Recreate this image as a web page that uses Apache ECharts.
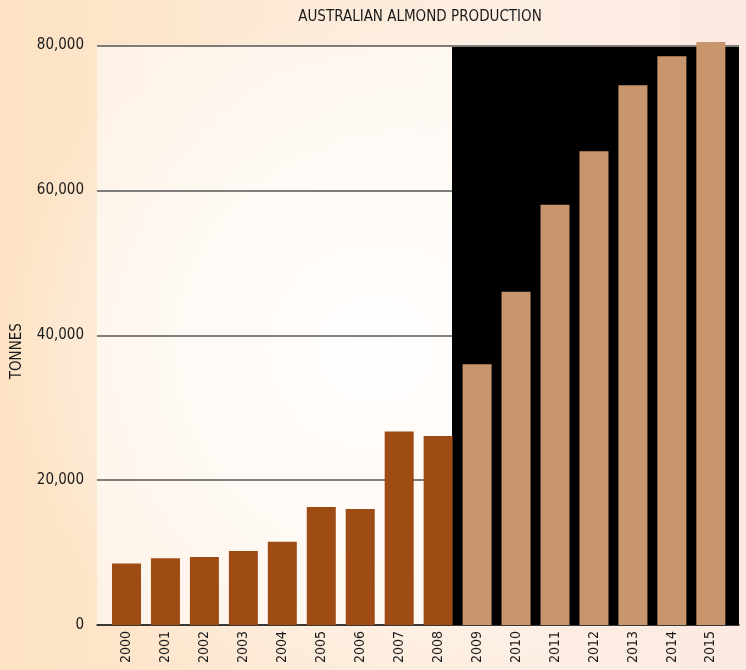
<!DOCTYPE html>
<html>
<head>
<meta charset="utf-8">
<script src="https://cdn.jsdelivr.net/npm/echarts@6/dist/echarts.min.js"></script>
<style>
html,body{margin:0;padding:0;background:#fff;}
#chart{
  width:746px;height:670px;
  background:
    radial-gradient(ellipse 50% 52% at 50% 52%, rgba(255,252,249,1) 0%, rgba(255,248,242,0.8) 45%, rgba(255,246,238,0) 100%),
    linear-gradient(to right, #fde2c3 0%, #fde9d4 35%, #fdeee2 70%, #fceae2 100%);
}
</style>
</head>
<body>
<div id="chart"></div>
<script>
const years = [2000,2001,2002,2003,2004,2005,2006,2007,2008,2009,2010,2011,2012,2013,2014,2015];
const tonnes = [8500,9200,9400,10200,11500,16300,16000,26700,26100,36000,46000,58000,65400,74500,78500,80500];
const forecastFrom = 2009;
const titleText = 'AUSTRALIAN ALMOND PRODUCTION';
const yName = 'TONNES';

const FONT = "'Liberation Sans Narrow','DejaVu Sans Condensed','Arial Narrow',sans-serif";
const xMin = 1999.243, xMax = 2015.723;
const shadeStart = 2008.356;

const chart = echarts.init(document.getElementById('chart'));
chart.setOption({
  backgroundColor: 'transparent',
  animation: false,
  title: {
    text: titleText, left: 415, top: 5, textAlign: 'center',
    textStyle: {fontFamily: FONT, fontSize: 15, fontWeight: 'normal', color: '#1a1a1a'}
  },
  grid: {
    left: 97, right: 7, top: 45.5, bottom: 45, containLabel: false,
    show: true, borderWidth: 0, backgroundColor: 'rgba(255,255,255,0.55)'
  },
  xAxis: {
    type: 'value', min: xMin, max: xMax,
    splitLine: {show: false},
    axisTick: {show: false},
    axisLine: {show: true, onZero: true, lineStyle: {color: '#222', width: 1.5}},
    axisLabel: {
      customValues: years, rotate: 90, margin: 6,
      fontFamily: FONT, fontSize: 14, color: '#1a1a1a',
      formatter: v => String(Math.round(v))
    }
  },
  yAxis: {
    type: 'value', min: 0, max: 80000, interval: 20000,
    name: yName, nameLocation: 'middle', nameGap: 72,
    nameTextStyle: {fontFamily: FONT, fontSize: 15, color: '#1a1a1a', padding: [0, 32, 0, 0]},
    axisLine: {show: false}, axisTick: {show: false},
    splitLine: {show: true, lineStyle: {color: '#555', width: 1.5}},
    axisLabel: {
      margin: 13, fontFamily: FONT, fontSize: 15, color: '#1a1a1a',
      formatter: v => v.toLocaleString('en-US')
    }
  },
  series: [
    {
      type: 'line', data: [], z: 1, silent: true,
      markArea: {
        silent: true,
        itemStyle: {color: '#000', opacity: 1},
        data: [[{xAxis: shadeStart, yAxis: 0}, {xAxis: xMax, yAxis: 79800}]]
      }
    },
    {
      type: 'bar', z: 3, barWidth: 29, clip: false,
      data: years.map((y, i) => ({
        value: [y, tonnes[i]],
        itemStyle: {color: y >= forecastFrom ? '#c8956c' : '#9e4c14'}
      }))
    }
  ]
});
</script>
</body>
</html>
